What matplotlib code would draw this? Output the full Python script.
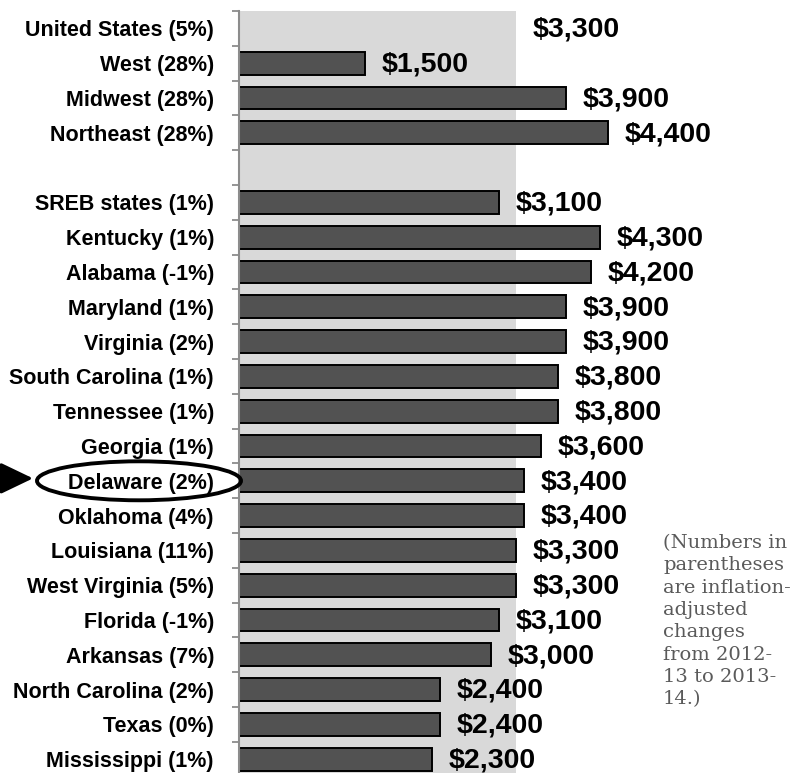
import numpy as np
import matplotlib
matplotlib.use('Agg')
import matplotlib.pyplot as plt
from matplotlib.patches import Ellipse
from matplotlib.transforms import blended_transform_factory

# 数据
labels = ['United States (5%)', 'West (28%)', 'Midwest (28%)', 'Northeast (28%)', '',
          'SREB states (1%)', 'Kentucky (1%)', 'Alabama (-1%)', 'Maryland (1%)',
          'Virginia (2%)', 'South Carolina (1%)', 'Tennessee (1%)', 'Georgia (1%)',
          'Delaware (2%)', 'Oklahoma (4%)', 'Louisiana (11%)', 'West Virginia (5%)',
          'Florida (-1%)', 'Arkansas (7%)', 'North Carolina (2%)', 'Texas (0%)',
          'Mississippi (1%)']
values = [np.nan, 1500, 3900, 4400, np.nan, 3100, 4300, 4200, 3900, 3900, 3800, 3800,
          3600, 3400, 3400, 3300, 3300, 3100, 3000, 2400, 2400, 2300]
us_value = 3300
highlight = 'Delaware (2%)'
note = ('(Numbers in\nparentheses\nare inflation-\nadjusted\nchanges\n'
        'from 2012-\n13 to 2013-\n14.)')

plt.rcParams['font.family'] = ['Liberation Sans', 'DejaVu Sans']

W, H = 800, 773
fig = plt.figure(figsize=(W / 100, H / 100), dpi=100)
n = len(labels)
top_px, row_px = 11, 34.8
ax_h = n * row_px
ax = fig.add_axes([239 / W, (H - top_px - ax_h) / H, (W - 239) / W, ax_h / H])

y = np.arange(n)

# 美国平均值作为灰色背景
ax.barh((n - 1) / 2, us_value, height=n, color='#d9d9d9', zorder=0)

ax.barh(y, values, height=0.65, color='#525252', edgecolor='black', linewidth=1.4, zorder=2)

for i, v in enumerate(values):
    if np.isnan(v):
        continue
    ax.annotate(f'${v:,.0f}', xy=(v, i), xytext=(12, -1), textcoords='offset points',
                va='center', ha='left', fontsize=20.5, fontweight='bold', color='black')
ax.annotate(f'${us_value:,.0f}', xy=(us_value, 0), xytext=(12, -1), textcoords='offset points',
            va='center', ha='left', fontsize=20.5, fontweight='bold', color='black')

ax.set_xlim(0, (W - 239) / 0.0839)
ax.set_ylim(n - 0.5, -0.5)
ax.set_yticks(y)
ax.set_yticklabels(labels, fontsize=15.5, fontweight='bold')
ax.set_yticks(np.arange(-0.5, n, 1), minor=True)
ax.tick_params(axis='y', which='major', length=0, pad=18)
ax.tick_params(axis='y', which='minor', length=5, width=1.3, color='#8c8c8c', direction='out')
ax.set_xticks([])
for s in ['top', 'right', 'bottom']:
    ax.spines[s].set_visible(False)
ax.spines['left'].set_color('#8c8c8c')
ax.spines['left'].set_linewidth(1.5)

# 圈出 Delaware
hi = labels.index(highlight)
trans = blended_transform_factory(fig.transFigure, ax.transData)
ax.add_patch(Ellipse((139 / W, hi), 204 / W, 1.12, transform=trans, fill=False,
                     edgecolor='black', linewidth=2.8, clip_on=False, zorder=5))
ax.annotate('', xy=(33 / W, hi - 0.07), xycoords=trans, xytext=(0, hi - 0.07), textcoords=trans,
            arrowprops=dict(arrowstyle='-|>,head_length=1.0,head_width=0.48',
                            color='black', lw=2.5, mutation_scale=20,
                            shrinkA=0, shrinkB=0),
            annotation_clip=False)

fig.text(663 / W, 1 - 534 / H, note, ha='left', va='top', fontsize=14,
         family='DejaVu Serif', color='#5a5a5a', linespacing=1.31)

fig.savefig('out.png', dpi=100)
